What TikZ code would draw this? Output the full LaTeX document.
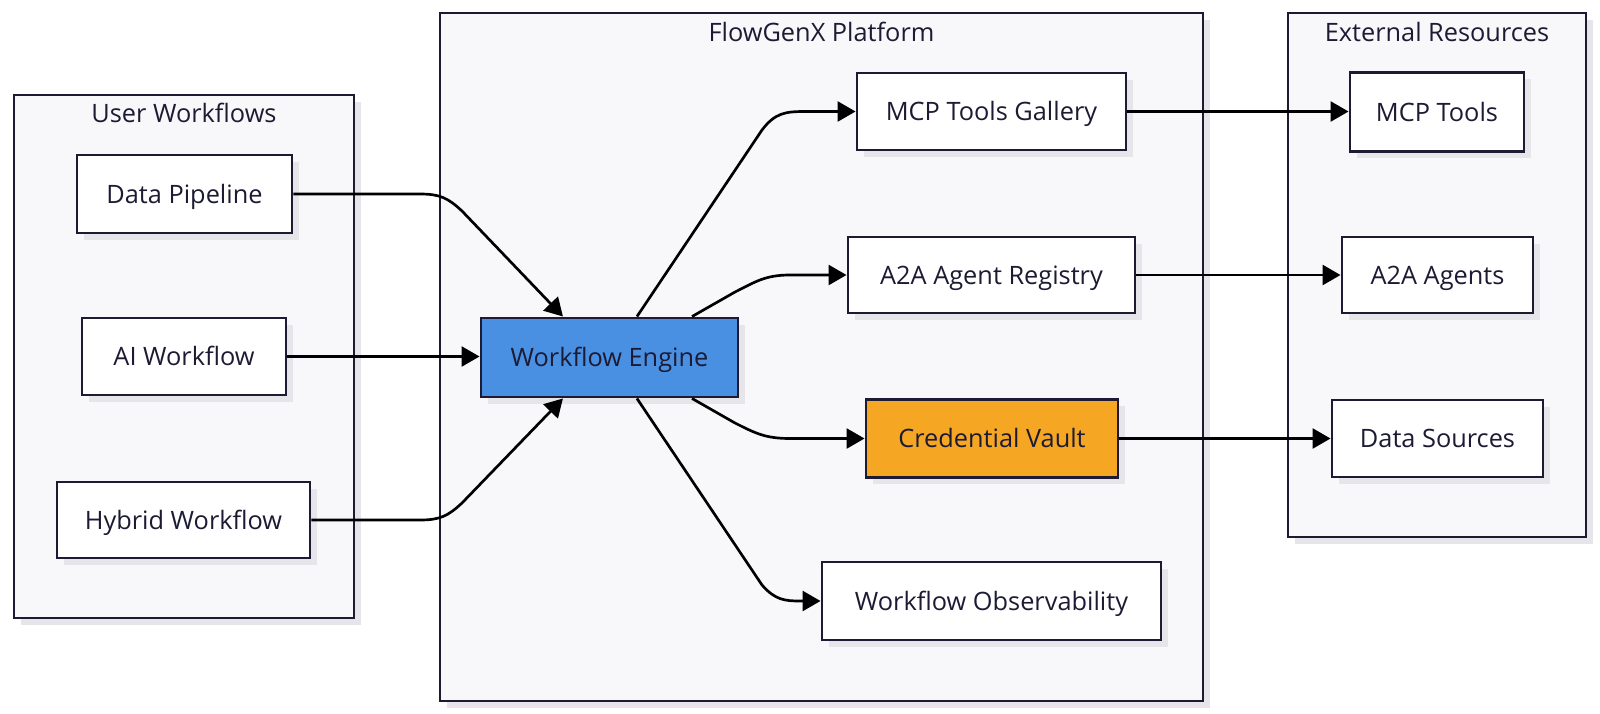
\documentclass[tikz,border=0pt]{standalone}
\usepackage{fontspec}
\setmainfont{Open Sans}
\usetikzlibrary{arrows.meta,shadows}
\definecolor{ink}{HTML}{1C1B33}
\definecolor{clfill}{HTML}{F8F8FB}
\definecolor{shad}{HTML}{E6E6EA}
\definecolor{engblue}{HTML}{4A90E2}
\definecolor{vaultor}{HTML}{F5A623}
\tikzset{
  sh/.style={drop shadow={shadow xshift=5pt, shadow yshift=-5pt, fill=shad, opacity=1}},
  box/.style={sh, draw=ink, line width=2.2pt, fill=white, inner sep=0pt, text=ink,
    font=\fontsize{19}{22}\selectfont, text height=13.6pt, text depth=0pt},
  cluster/.style={sh, draw=ink, line width=2.2pt, fill=clfill, inner sep=0pt},
  ctitle/.style={text=ink, inner sep=0pt, font=\fontsize{19}{22}\selectfont,
    text height=13.6pt, text depth=0pt},
  arr/.style={draw=black, line width=2pt, -{Triangle[length=13.5pt,width=15pt]}}
}
\begin{document}
\begin{tikzpicture}[x=0.75pt,y=-0.75pt]
\useasboundingbox (0,0) rectangle (1600,714);
% clusters
\node[cluster, minimum width=255pt, minimum height=392.25pt] (cu) at (184,356.5) {};
\node[cluster, minimum width=572.25pt, minimum height=516pt] (cp) at (821.5,357) {};
\node[cluster, minimum width=223.5pt, minimum height=393pt] (ce) at (1437,275) {};
\node[ctitle] (tu) at (184,113) {User Workflows};
\node[ctitle] (tp) at (821.5,32) {FlowGenX Platform};
\node[ctitle] (te) at (1437,32) {External Resources};
% user nodes
\node[box, minimum width=161.25pt, minimum height=58.5pt] (dp) at (184.5,194) {Data Pipeline};
\node[box, minimum width=153pt, minimum height=57.75pt] (ai) at (184,356.5) {AI Workflow};
\node[box, minimum width=189.75pt, minimum height=57pt] (hy) at (183.5,520) {Hybrid Workflow};
% platform
\node[box, fill=engblue, minimum width=192.75pt, minimum height=59.25pt] (we) at (609.5,357.5) {Workflow Engine};
\node[box, minimum width=201.75pt, minimum height=57.75pt] (gal) at (991.5,111.5) {MCP Tools Gallery};
\node[box, minimum width=215.25pt, minimum height=57pt] (reg) at (991.5,275) {A2A Agent Registry};
\node[box, fill=vaultor, minimum width=189pt, minimum height=58.5pt] (vault) at (992,438.5) {Credential Vault};
\node[box, minimum width=254.25pt, minimum height=58.5pt] (obs) at (991.5,601) {Workflow Observability};
% external
\node[box, minimum width=130.5pt, minimum height=59.25pt] (mcp) at (1437,112) {MCP Tools};
\node[box, minimum width=143.25pt, minimum height=57pt] (a2a) at (1437.5,275) {A2A Agents};
\node[box, minimum width=158.25pt, minimum height=57.75pt] (ds) at (1437.5,438.5) {Data Sources};
% edges into engine
\draw[arr] (dp.east) -- (420,194) .. controls (440,194) and (448,198) .. (462,211) -- ([xshift=-34.9pt]we.north);
\draw[arr] (ai.east) -- (ai.east -| we.west);
\draw[arr] (hy.east) -- (420,520) .. controls (440,520) and (448,516) .. (462,503) -- ([xshift=-34.9pt]we.south);
% edges out of engine
\draw[arr] ([xshift=20.6pt]we.north) -- (762,130) .. controls (775,113) and (785,111.5) .. (805,111.5) -- (gal.west);
\draw[arr] ([xshift=61.9pt]we.north) -- (735,292) .. controls (755,282) and (765,275) .. (790,275) -- (reg.west);
\draw[arr] ([xshift=61.9pt]we.south) -- (735,423) .. controls (755,433) and (765,438.5) .. (790,438.5) -- (vault.west);
\draw[arr] ([xshift=20.6pt]we.south) -- (762,585) .. controls (775,600) and (785,601) .. (800,601) -- (obs.west);
% to external
\draw[arr] (gal.east) -- (gal.east -| mcp.west);
\draw[arr] (reg.east) -- (reg.east -| a2a.west);
\draw[arr] (vault.east) -- (vault.east -| ds.west);
\end{tikzpicture}
\end{document}
